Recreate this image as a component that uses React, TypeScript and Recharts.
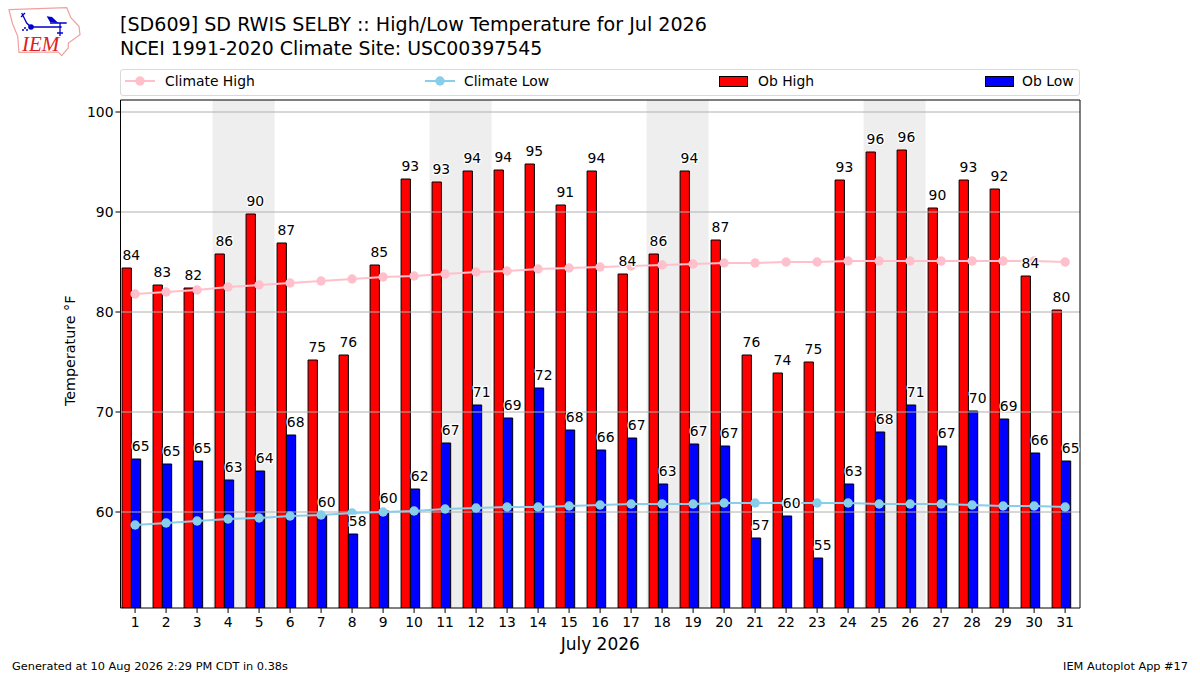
import { Bar, ComposedChart, LabelList, Line, ReferenceArea, ReferenceLine, XAxis, YAxis } from "recharts";

const FONT = "'DejaVu Sans', sans-serif";

const days = [1, 2, 3, 4, 5, 6, 7, 8, 9, 10, 11, 12, 13, 14, 15, 16, 17, 18, 19, 20, 21, 22, 23, 24, 25, 26, 27, 28, 29, 30, 31];
const obHigh = [84.4, 82.7, 82.4, 85.8, 89.8, 86.9, 75.2, 75.7, 84.7, 93.3, 93.0, 94.1, 94.2, 94.8, 90.7, 94.1, 83.8, 85.8, 94.1, 87.2, 75.7, 73.9, 75.0, 93.2, 96.0, 96.2, 90.4, 93.2, 92.3, 83.6, 80.2];
const obLow = [65.3, 64.8, 65.1, 63.2, 64.1, 67.7, 59.7, 57.8, 60.1, 62.3, 66.9, 70.7, 69.4, 72.4, 68.2, 66.2, 67.4, 62.8, 66.8, 66.6, 57.4, 59.6, 55.4, 62.8, 68.0, 70.7, 66.6, 70.1, 69.3, 65.9, 65.1];
const climateHigh = [81.8, 82.0, 82.2, 82.5, 82.7, 82.9, 83.1, 83.3, 83.5, 83.6, 83.8, 84.0, 84.1, 84.3, 84.4, 84.5, 84.6, 84.7, 84.8, 84.9, 84.9, 85.0, 85.0, 85.1, 85.1, 85.1, 85.1, 85.1, 85.1, 85.1, 85.0];
const climateLow = [58.7, 58.9, 59.1, 59.3, 59.4, 59.6, 59.7, 59.9, 60.0, 60.1, 60.3, 60.4, 60.5, 60.5, 60.6, 60.7, 60.8, 60.8, 60.8, 60.9, 60.9, 60.9, 60.9, 60.9, 60.8, 60.8, 60.8, 60.7, 60.6, 60.6, 60.5];
const yTicks = [60, 70, 80, 90, 100];
const weekends = [[3.5, 5.5], [10.5, 12.5], [17.5, 19.5], [24.5, 26.5]];

const rows = days.map((day, i) => ({
  day,
  high: obHigh[i],
  low: obLow[i],
  climHigh: climateHigh[i],
  climLow: climateLow[i],
}));

const X_MIN = 0.53;
const X_MAX = 31.48;
const Y_MIN = 50.4;
const Y_MAX = 101.2;
// the original bars sit a bit left of their tick, so they get their own hidden axis
const BAR_SHIFT = 0.113;

// rounded value at the bar's right edge, white halo like the original
function BarValue(props: any) {
  const { x, y, width, value } = props;
  return (
    <text
      x={x + width}
      y={y - 8}
      textAnchor="middle"
      fontFamily={FONT}
      fontSize={13.9}
      fill="#000"
      stroke="#fff"
      strokeWidth={2.5}
      paintOrder="stroke"
    >
      {Math.round(value)}
    </text>
  );
}

function Logo() {
  return (
    <svg width={80} height={60} style={{ position: "absolute", left: 5, top: 3 }} viewBox="5 3 80 60">
      <path
        d="M9 9.7 L66.7 7.7 L71 18 L79 26.3 L80 34.7 L68.3 43 L68.3 48 L61.7 55.7 L58.3 52 L19 52.3 L17.7 36.3 L12.3 23 Z"
        fill="#fff"
        stroke="#f0a0a0"
        strokeWidth={1.2}
      />
      <path
        d="M21.7 13 L26.7 23 L31 27 L61.7 27 M50 23 L66.7 23 M60 23 L60 36 M57 33 L63 33 M21 17 L25 13"
        stroke="#0000cc"
        strokeWidth={1.3}
        fill="none"
      />
      <path d="M46.7 16.3 L52 17 L58.3 23 L50 22 Z" fill="#0000cc" />
      <circle cx={31} cy={27} r={2.8} fill="#0000cc" />
      <circle cx={25} cy={28} r={1} fill="#0000cc" />
      <circle cx={23} cy={30} r={1} fill="#0000cc" />
      <circle cx={27} cy={30} r={1} fill="#0000cc" />
      <text x={22} y={51} fontFamily="'Liberation Serif', serif" fontStyle="italic" fontSize={21} fill="#dd2222">
        IEM
      </text>
    </svg>
  );
}

function LegendBox() {
  const txt = { position: "absolute" as const, top: 3, fontSize: 13.9, lineHeight: "16px", whiteSpace: "nowrap" as const, color: "#000" };
  const line = (left: number, color: string) => (
    <svg width={32} height={12} style={{ position: "absolute", left, top: 5 }}>
      <line x1={1} x2={31} y1={6} y2={6} stroke={color} strokeWidth={2} />
      <circle cx={16} cy={6} r={4.7} fill={color} />
    </svg>
  );
  const patch = (left: number, color: string) => (
    <div style={{ position: "absolute", left, top: 6, width: 27, height: 9, background: color, border: "1px solid #000" }} />
  );
  return (
    <div
      style={{
        position: "absolute",
        left: 120,
        top: 69,
        width: 958,
        height: 25,
        border: "1px solid #d9d9d9",
        borderRadius: 3,
        fontFamily: FONT,
      }}
    >
      {line(3, "#ffc0cb")}
      <span style={{ ...txt, left: 44 }}>Climate High</span>
      {line(303, "#87ceeb")}
      <span style={{ ...txt, left: 343 }}>Climate Low</span>
      {patch(598, "#ff0000")}
      <span style={{ ...txt, left: 637 }}>Ob High</span>
      {patch(864, "#0000ff")}
      <span style={{ ...txt, left: 901 }}>Ob Low</span>
    </div>
  );
}

export default function App() {
  return (
    <div style={{ position: "absolute", left: 0, top: 0, width: 1200, height: 675, background: "#fff", overflow: "hidden", fontFamily: FONT }}>
      <ComposedChart
        width={1200}
        height={675}
        data={rows}
        barGap={0}
        barSize={9.3}
        margin={{ top: 100, right: 120, bottom: 37, left: 60.5 }}
      >
        {weekends.map(([a, b]) => (
          <ReferenceArea key={a} x1={a} x2={b} y1={Y_MIN} y2={Y_MAX} fill="#eeeeee" fillOpacity={1} stroke="none" ifOverflow="hidden" />
        ))}
        <XAxis
          dataKey="day"
          type="number"
          scale="linear"
          domain={[X_MIN, X_MAX]}
          ticks={days}
          interval={0}
          allowDataOverflow
          height={30}
          tickSize={5}
          tickMargin={4}
          stroke="#000"
          tick={{ fontSize: 13.9, fontFamily: FONT, fill: "#000" }}
          label={{ value: "July 2026", position: "insideBottom", offset: -12, fontSize: 17, fontFamily: FONT, fill: "#000" }}
        />
        <XAxis
          xAxisId="bars"
          dataKey="day"
          type="number"
          scale="linear"
          domain={[X_MIN + BAR_SHIFT, X_MAX + BAR_SHIFT]}
          allowDataOverflow
          hide
        />
        <YAxis
          type="number"
          domain={[Y_MIN, Y_MAX]}
          ticks={yTicks}
          allowDataOverflow
          width={60}
          tickSize={5}
          tickMargin={2}
          stroke="#000"
          tick={{ fontSize: 13.9, fontFamily: FONT, fill: "#000" }}
          label={{ value: "Temperature °F", angle: -90, position: "insideLeft", offset: 9, dy: 52, fontSize: 14.3, fontFamily: FONT, fill: "#000" }}
        />
        <Bar xAxisId="bars" dataKey="high" fill="#ff0000" stroke="#000" strokeWidth={1} isAnimationActive={false}>
          <LabelList dataKey="high" content={BarValue} />
        </Bar>
        <Bar xAxisId="bars" dataKey="low" fill="#0000ff" stroke="#000" strokeWidth={1} isAnimationActive={false}>
          <LabelList dataKey="low" content={BarValue} />
        </Bar>
        {yTicks.map((t) => (
          <ReferenceLine key={t} y={t} stroke="#b0b0b0" strokeWidth={1} />
        ))}
        <Line dataKey="climHigh" stroke="#ffc0cb" strokeWidth={2} dot={{ r: 4.7, fill: "#ffc0cb", stroke: "#ffc0cb", strokeWidth: 0 }} isAnimationActive={false} />
        <Line dataKey="climLow" stroke="#87ceeb" strokeWidth={2} dot={{ r: 4.7, fill: "#87ceeb", stroke: "#87ceeb", strokeWidth: 0 }} isAnimationActive={false} />
        <ReferenceLine y={Y_MAX} stroke="#000" strokeWidth={1} />
        <ReferenceLine x={X_MAX} stroke="#000" strokeWidth={1} />
      </ComposedChart>

      <Logo />
      <div style={{ position: "absolute", left: 120, top: 13, fontSize: 19.1, lineHeight: "23.5px", color: "#000", whiteSpace: "nowrap" }}>
        [SD609] SD RWIS SELBY :: High/Low Temperature for Jul 2026
      </div>
      <div style={{ position: "absolute", left: 120, top: 36.5, fontSize: 18.9, lineHeight: "23.5px", color: "#000", whiteSpace: "nowrap" }}>
        NCEI 1991-2020 Climate Site: USC00397545
      </div>
      <LegendBox />
      <div style={{ position: "absolute", left: 12, top: 659, fontSize: 11.32, color: "#000", whiteSpace: "nowrap" }}>
        Generated at 10 Aug 2026 2:29 PM CDT in 0.38s
      </div>
      <div style={{ position: "absolute", right: 12, top: 659, fontSize: 11.32, color: "#000", whiteSpace: "nowrap" }}>
        IEM Autoplot App #17
      </div>
    </div>
  );
}
